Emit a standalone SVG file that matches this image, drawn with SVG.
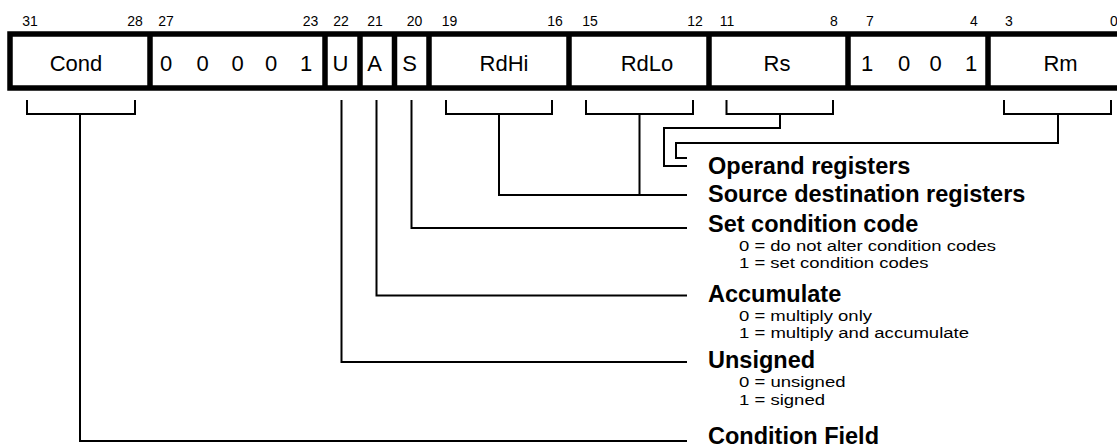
<svg xmlns="http://www.w3.org/2000/svg" width="1117" height="447" viewBox="0 0 1117 447">
<style>
.bit{font-family:"Liberation Sans",Arial,sans-serif;font-size:14px;fill:#000;text-anchor:middle}
.fld{font-family:"Liberation Sans",Arial,sans-serif;font-size:22px;fill:#000;text-anchor:middle}
.ttl{font-family:"Liberation Sans",Arial,sans-serif;font-size:23.5px;font-weight:bold;fill:#000}
.sub{font-family:"Liberation Sans",Arial,sans-serif;font-size:15.5px;fill:#000}
.box{fill:#fff;stroke:#000;stroke-width:5.5}
.div{stroke:#000;stroke-width:5.5}
.ln{fill:none;stroke:#000;stroke-width:2;stroke-linecap:square}
</style>
<rect width="1117" height="447" fill="#fff"/>
<g id="bit-numbers">
<text class="bit" x="30" y="26">31</text>
<text class="bit" x="135" y="26">28</text>
<text class="bit" x="166" y="26">27</text>
<text class="bit" x="310.5" y="26">23</text>
<text class="bit" x="341" y="26">22</text>
<text class="bit" x="375" y="26">21</text>
<text class="bit" x="414.5" y="26">20</text>
<text class="bit" x="449.5" y="26">19</text>
<text class="bit" x="555" y="26">16</text>
<text class="bit" x="590" y="26">15</text>
<text class="bit" x="695" y="26">12</text>
<text class="bit" x="727" y="26">11</text>
<text class="bit" x="834" y="26">8</text>
<text class="bit" x="870" y="26">7</text>
<text class="bit" x="974" y="26">4</text>
<text class="bit" x="1009" y="26">3</text>
<text class="bit" x="1114" y="26">0</text>
</g>
<g id="instruction-word">
<rect class="box" x="10" y="34" width="1120" height="54"/>
<line class="div" x1="150" y1="34" x2="150" y2="88"/>
<line class="div" x1="325" y1="34" x2="325" y2="88"/>
<line class="div" x1="360" y1="34" x2="360" y2="88"/>
<line class="div" x1="394.5" y1="34" x2="394.5" y2="88"/>
<line class="div" x1="429" y1="34" x2="429" y2="88"/>
<line class="div" x1="569" y1="34" x2="569" y2="88"/>
<line class="div" x1="709" y1="34" x2="709" y2="88"/>
<line class="div" x1="848" y1="34" x2="848" y2="88"/>
<line class="div" x1="988" y1="34" x2="988" y2="88"/>
</g>
<g id="field-cond"><text class="fld" x="76" y="71">Cond</text></g>
<g id="field-opcode">
<text class="fld" x="166" y="71">0</text>
<text class="fld" x="202.5" y="71">0</text>
<text class="fld" x="237.5" y="71">0</text>
<text class="fld" x="271" y="71">0</text>
<text class="fld" x="306" y="71">1</text>
</g>
<g id="field-u"><text class="fld" x="340.5" y="71">U</text></g>
<g id="field-a"><text class="fld" x="374.5" y="71">A</text></g>
<g id="field-s"><text class="fld" x="409.5" y="71">S</text></g>
<g id="field-rdhi"><text class="fld" x="504" y="71">RdHi</text></g>
<g id="field-rdlo"><text class="fld" x="647" y="71">RdLo</text></g>
<g id="field-rs"><text class="fld" x="777" y="71">Rs</text></g>
<g id="field-1001">
<text class="fld" x="867" y="71">1</text>
<text class="fld" x="904" y="71">0</text>
<text class="fld" x="935.5" y="71">0</text>
<text class="fld" x="971" y="71">1</text>
</g>
<g id="field-rm"><text class="fld" x="1060.5" y="71">Rm</text></g>
<g id="connectors">
<path class="ln" d="M27 101V114H135V101M80 114V441H686"/>
<path class="ln" d="M341.5 101V362H686"/>
<path class="ln" d="M376.5 101V295.5H686"/>
<path class="ln" d="M411.5 101V228H686"/>
<path class="ln" d="M446 101V114H552V101M499 114V195H686"/>
<path class="ln" d="M586 101V114H693V101M639.5 114V195"/>
<path class="ln" d="M726.5 101V114H833V101M780 114V128H664V166H686"/>
<path class="ln" d="M1004 101V114H1111V101M1058 114V143H676V158H686"/>
</g>
<g id="label-operand"><text class="ttl" x="708" y="174">Operand registers</text></g>
<g id="label-source"><text class="ttl" x="708" y="202">Source destination registers</text></g>
<g id="label-set">
<text class="ttl" x="708" y="232">Set condition code</text>
<text class="sub" x="739" y="251" textLength="257" lengthAdjust="spacingAndGlyphs">0 = do not alter condition codes</text>
<text class="sub" x="739" y="268" textLength="189.5" lengthAdjust="spacingAndGlyphs">1 = set condition codes</text>
</g>
<g id="label-accumulate">
<text class="ttl" x="708" y="302">Accumulate</text>
<text class="sub" x="739" y="320.5" textLength="133" lengthAdjust="spacingAndGlyphs">0 = multiply only</text>
<text class="sub" x="739" y="338" textLength="230" lengthAdjust="spacingAndGlyphs">1 = multiply and accumulate</text>
</g>
<g id="label-unsigned">
<text class="ttl" x="708" y="368">Unsigned</text>
<text class="sub" x="739" y="386.5" textLength="106.5" lengthAdjust="spacingAndGlyphs">0 = unsigned</text>
<text class="sub" x="739" y="404.5" textLength="86" lengthAdjust="spacingAndGlyphs">1 = signed</text>
</g>
<g id="label-condition"><text class="ttl" x="708" y="444">Condition Field</text></g>
</svg>
